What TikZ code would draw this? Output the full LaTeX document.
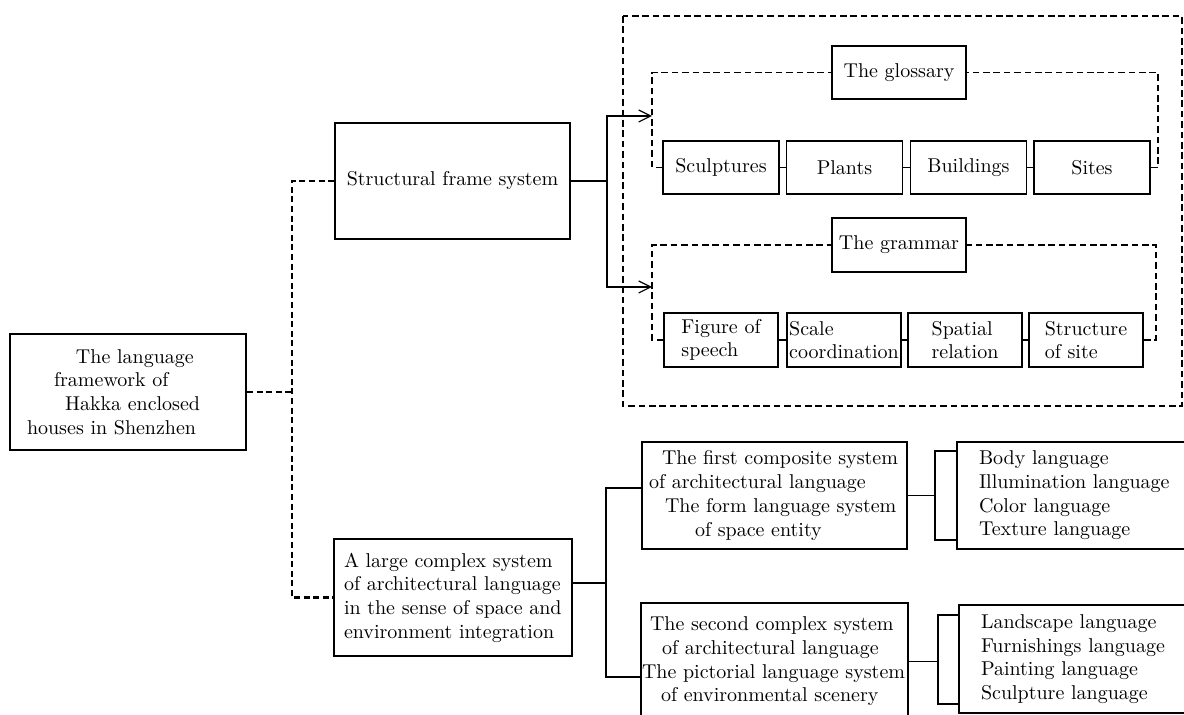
\documentclass[tikz,border=0pt]{standalone}
\usepackage{tikz}
\usetikzlibrary{arrows.meta}

\begin{document}
\begin{tikzpicture}[x=0.5pt,y=-0.5pt,
    every node/.style={font=\fontsize{10pt}{11.85pt}\selectfont},
    box/.style={draw,line width=0.9pt,inner sep=0pt,align=center},
    leaf/.style={box,minimum width=58pt,minimum height=26.5pt},
    link/.style={line width=0.6pt},
    dashlink/.style={line width=1.1pt,dash pattern=on 3pt off 1.8pt},
    framedash/.style={line width=0.8pt,dash pattern=on 3.3pt off 1.9pt},
    arrowlink/.style={line width=0.6pt,-{Straight Barb[length=6pt,width=6pt]}}]
    \useasboundingbox (0,0) rectangle (1184,715);

    % raiz e os dois sistemas
    \node[box,minimum width=118pt,minimum height=58pt,align=left,text width=101pt,inner xsep=8.5pt] (root) at (128,392)
        {\hspace*{24.5pt}The language\\ \hspace*{13.5pt}framework of\\ \hspace*{19pt}Hakka enclosed\\ houses in Shenzhen};
    \node[box,minimum width=117.5pt,minimum height=58pt] (sfs) at (452.5,181) {Structural frame system};
    \node[box,minimum height=58.5pt,align=left,text width=109pt,inner xsep=5pt] (lcs) at (453,597.5)
        {A large complex system\\ of architectural language\\ in the sense of space and\\ environment integration};

    \draw[dashlink] (root.east) -- ++(45,0) coordinate (rj);
    \draw[dashlink] (sfs.west) -| (rj) |- (lcs.west);

    % quadro tracejado
    \draw[framedash] (623,16) rectangle (1182,406);
    \coordinate (gtip) at (652,116);
    \coordinate (rtip) at (652,287);
    \draw[arrowlink] (sfs.east) -- ++(36,0) |- (gtip);
    \draw[arrowlink] (sfs.east) -- ++(36,0) |- (rtip);

    % glossary
    \node[box,minimum width=67pt,minimum height=26.5pt] (glossary) at (899,72.5) {The glossary};
    \node[leaf] (sculptures) at (721,167.5) {Sculptures};
    \node[leaf] (plants) at (844.5,167.5) {Plants};
    \node[leaf] (buildings) at (968.5,167.5) {Buildings};
    \node[leaf] (sites) at (1092,167.5) {Sites};
    \draw[framedash] (sculptures.west) -- (sculptures.west -| gtip) |- (glossary.west);
    \draw[framedash] (sites.east) -- ++(7,0) |- (glossary.east);
    \draw[link] (sculptures) -- (plants);
    \draw[link] (plants) -- (buildings);
    \draw[link] (buildings) -- (sites);

    % grammar
    \node[box,minimum width=67pt,minimum height=27pt] (grammar) at (899,245) {The grammar};
    \node[leaf,minimum width=57pt,minimum height=27pt,align=left] (figure) at (721,340) {Figure of\\ speech};
    \node[leaf,minimum width=57pt,minimum height=27pt,align=left] (scale) at (844,340) {Scale\\ coordination};
    \node[leaf,minimum width=57pt,minimum height=27pt,align=left] (spatial) at (965,340) {Spatial\\ relation};
    \node[leaf,minimum width=57pt,minimum height=27pt,align=left] (structure) at (1086,340) {Structure\\ of site};
    \draw[framedash] (figure.west) -- (figure.west -| rtip) |- (grammar.west);
    \draw[framedash] (structure.east) -- ++(12,0) |- (grammar.east);
    \draw[link] (figure) -- (scale);
    \draw[link] (scale) -- (spatial);
    \draw[link] (spatial) -- (structure);

    % sistemas compostos
    \node[box,minimum height=53.5pt,align=left,text width=125.5pt,inner xsep=3.5pt] (first) at (774.5,495.5)
        {\hspace*{6.5pt}The first composite system\\ of architectural language\\ \hspace*{8pt}The form language system\\ \hspace*{23pt}of space entity};
    \node[box,minimum height=58.5pt,align=left,text width=132.5pt,inner xsep=0.5pt] (second) at (774.5,661.5)
        {\hspace*{4pt}The second complex system\\ \hspace*{10pt}of architectural language\\ The pictorial language system\\ \hspace*{9.5pt}of environmental scenery};
    \node[box,minimum height=53.5pt,align=left,text width=97pt,inner xsep=11pt] (list1) at (1076,495.5)
        {Body language\\ Illumination language\\ Color language\\ Texture language};
    \node[box,minimum height=54pt,align=left,text width=96pt,inner xsep=11pt] (list2) at (1077,659)
        {Landscape language\\ Furnishings language\\ Painting language\\ Sculpture language};

    \draw[link] ([yshift=7.25pt]lcs.east) -- ++(33,0) coordinate (lj);
    \draw[link] ([yshift=3.75pt]first.west) -| (lj) |- ([yshift=-7.75pt]second.west);
    \draw[link] (first.east) -- ++(27,0) coordinate (bj1);
    \draw[link] ([yshift=22.25pt]list1.west) -| (bj1) |- ([yshift=-22.25pt]list1.west);
    \draw[link] (second.east) -- ++(29,0) coordinate (bj2);
    \draw[link] ([yshift=22pt]list2.west) -| (bj2) |- ([yshift=-22.5pt]list2.west);
\end{tikzpicture}
\end{document}
